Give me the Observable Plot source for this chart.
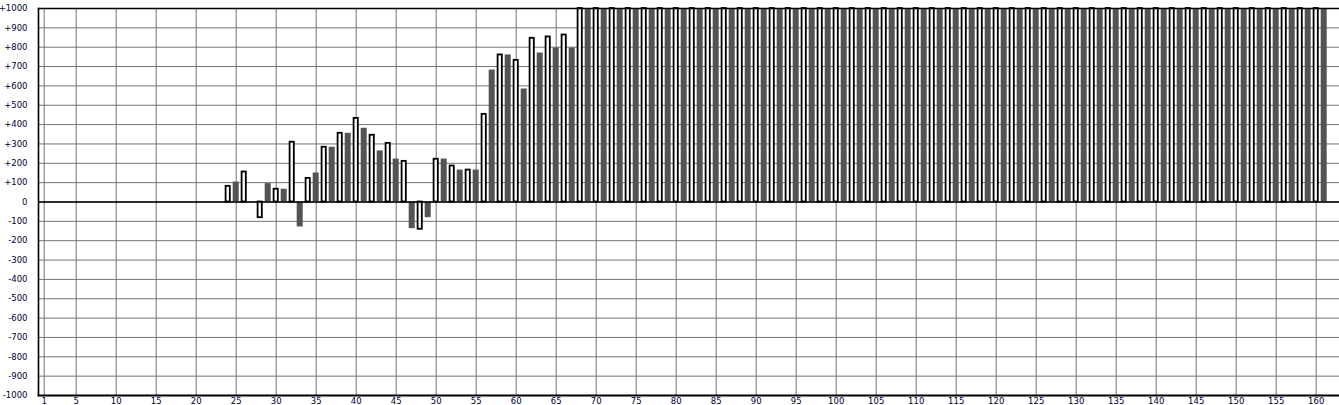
<!DOCTYPE html>
<html>
<head>
<meta charset="utf-8">
<script src="https://cdn.jsdelivr.net/npm/d3@7"></script>
<script src="https://cdn.jsdelivr.net/npm/@observablehq/plot@0.6"></script>
<style>
  html, body { margin: 0; padding: 0; background: #fff; overflow: hidden; }
  svg { display: block; }
</style>
</head>
<body>
<div id="chart"></div>
<script>
// White (outlined) series: positions and values
const whiteX = [24,26,28,30,32,34,36,38,40,42,44,46,48,50,52,54,56,58,60,62,64,66,
  68,70,72,74,76,78,80,82,84,86,
  88,90,92,94,96,98,100,102,104,106,
  108,110,112,114,116,118,120,122,124,126,
  128,130,132,134,136,138,140,142,144,146,
  148,150,152,154,156,158,160];
const whiteValues = [81,155,-81,66,309,122,283,355,432,345,303,210,-141,221,186,165,453,760,732,846,853,863,
  1000,1000,1000,1000,1000,1000,1000,1000,1000,1000,
  1000,1000,1000,1000,1000,1000,1000,1000,1000,1000,
  1000,1000,1000,1000,1000,1000,1000,1000,1000,1000,
  1000,1000,1000,1000,1000,1000,1000,1000,1000,1000,
  1000,1000,1000,1000,1000,1000,1000];

// Gray (filled) series: positions and values
const grayX = [25,29,31,33,35,37,39,41,43,45,47,49,51,53,55,57,59,61,63,65,67,
  69,71,73,75,77,79,81,83,85,87,
  89,91,93,95,97,99,101,103,105,107,
  109,111,113,115,117,119,121,123,125,127,
  129,131,133,135,137,139,141,143,145,147,
  149,151,153,155,157,159,161];
const grayValues = [103,95,66,-129,150,283,355,381,264,222,-138,-81,222,165,165,682,760,584,770,796,796,
  1000,1000,1000,1000,1000,1000,1000,1000,1000,1000,
  1000,1000,1000,1000,1000,1000,1000,1000,1000,1000,
  1000,1000,1000,1000,1000,1000,1000,1000,1000,1000,
  1000,1000,1000,1000,1000,1000,1000,1000,1000,1000,
  1000,1000,1000,1000,1000,1000,1000];

// Tick labels
const xTicks = [1,5,10,15,20,25,30,35,40,45,50,55,60,65,70,75,80,85,90,95,100,105,110,115,120,125,130,135,140,145,150,155,160];
const yTicks = [-1000,-900,-800,-700,-600,-500,-400,-300,-200,-100,0,100,200,300,400,500,600,700,800,900,1000];

const whiteBars = whiteX.map((x, i) => ({x, v: whiteValues[i]}));
const grayBars = grayX.map((x, i) => ({x, v: grayValues[i]}));

const labelColor = "#000038";
const gridColor = "#737373";

const chart = Plot.plot({
  width: 1339,
  height: 405,
  marginLeft: 38,
  marginRight: 0,
  marginTop: 8,
  marginBottom: 10,
  style: {fontFamily: "DejaVu Sans", fontSize: "8.5px", background: "#fff", overflow: "visible"},
  x: {type: "linear", domain: [0.2875, 162.9125], axis: null, label: null},
  y: {type: "linear", domain: [-1000, 1000], axis: null, label: null},
  marks: [
    Plot.ruleX(xTicks, {stroke: gridColor, strokeWidth: 1}),
    Plot.ruleY(yTicks, {stroke: gridColor, strokeWidth: 1}),
    Plot.rect(grayBars, {x1: d => d.x - 0.375, x2: d => d.x + 0.375, y1: 0, y2: "v", fill: "#545454"}),
    Plot.rect(whiteBars, {x1: d => d.x - 0.2625, x2: d => d.x + 0.2625, y1: 0, y2: "v", fill: "#fff", stroke: "#000", strokeWidth: 1.8}),
    Plot.ruleY([0], {stroke: "#000", strokeWidth: 1.5}),
    Plot.frame({anchor: "left", stroke: "#000", strokeWidth: 1.6}),
    Plot.frame({anchor: "top", stroke: "#000", strokeWidth: 1.6}),
    Plot.frame({anchor: "bottom", stroke: "#000", strokeWidth: 2}),
    Plot.axisY(yTicks, {tickSize: 0, tickPadding: 11, fill: labelColor, label: null, tickFormat: d => d > 0 ? "+" + d : String(d)}),
    Plot.axisX(xTicks, {tickSize: 0, tickPadding: 2.5, fill: labelColor, label: null, tickFormat: d => String(d)})
  ]
});
document.getElementById("chart").appendChild(chart);
</script>
</body>
</html>
